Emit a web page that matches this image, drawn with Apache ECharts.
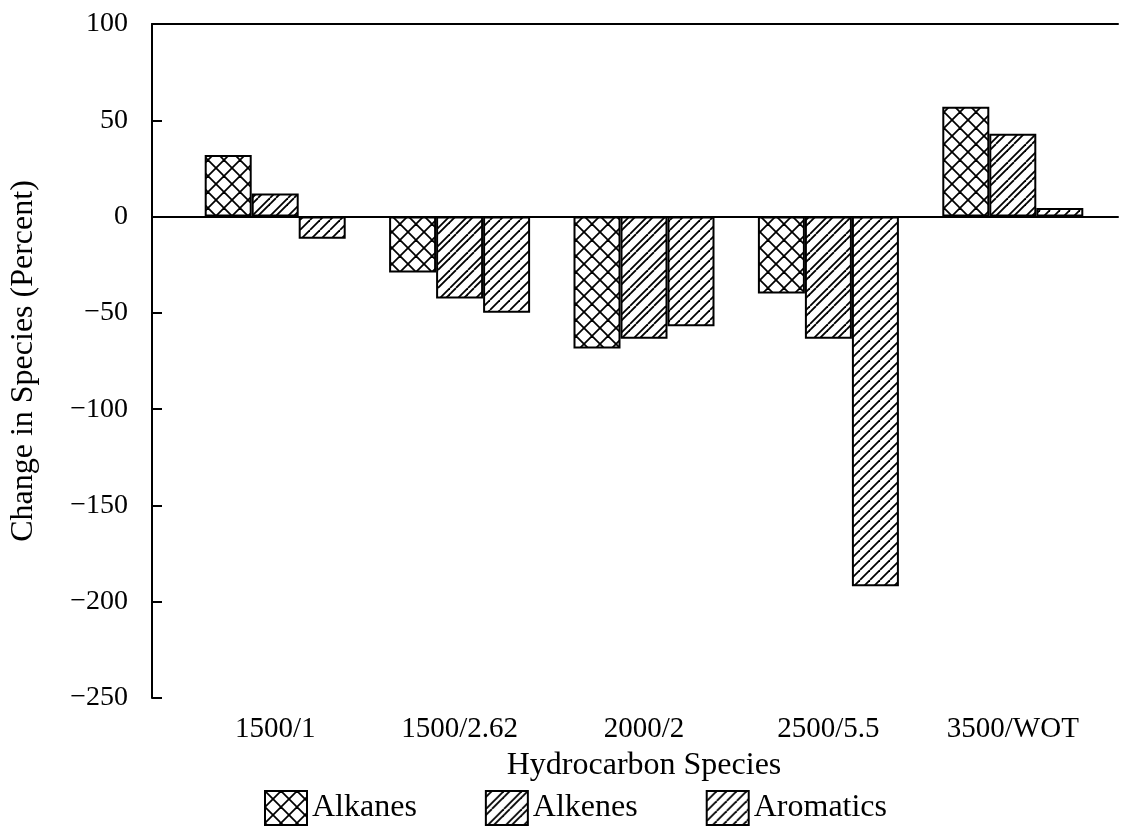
<!DOCTYPE html>
<html>
<head>
<meta charset="utf-8">
<script src="https://cdn.jsdelivr.net/npm/echarts@6/dist/echarts.min.js"></script>
<style>
  html, body { margin: 0; padding: 0; background: #fff; }
  #chart { width: 1132px; height: 836px; }
</style>
</head>
<body>
<div id="chart"></div>
<script>
// data
const categories = ["1500/1", "1500/2.62", "2000/2", "2500/5.5", "3500/WOT"];
const alkanes = [32, -29, -68.5, -40, 57];
const alkenes = [12, -42.5, -63.5, -63.5, 43];
const aromatics = [-11.5, -50, -57, -192, 4.5];
const yTicks = { min: -250, max: 100, step: 50 };

const FONT = "Liberation Serif";

// hatch patterns
function makePattern(size, draw) {
  const c = document.createElement("canvas");
  c.width = size; c.height = size;
  const ctx = c.getContext("2d");
  ctx.fillStyle = "#fff";
  ctx.fillRect(0, 0, size, size);
  ctx.strokeStyle = "#000";
  ctx.lineWidth = 1.8;
  draw(ctx, size);
  return { image: c, repeat: "repeat" };
}
function slash(ctx, s, off) {
  // line going up-right, repeated across tile edges
  for (let k = -1; k <= 1; k++) {
    ctx.beginPath();
    ctx.moveTo(off + k * s, s);
    ctx.lineTo(off + k * s + s, 0);
    ctx.stroke();
  }
}
const crossPat = makePattern(16, (ctx, s) => {
  slash(ctx, s, 0);
  for (let k = -1; k <= 1; k++) {
    ctx.beginPath();
    ctx.moveTo(k * s, 0);
    ctx.lineTo(k * s + s, s);
    ctx.stroke();
  }
});
const alkenePat = makePattern(18, (ctx, s) => { slash(ctx, s, 0); slash(ctx, s, 6); });
const aromPat = makePattern(10, (ctx, s) => { slash(ctx, s, 0); });

function barSeries(name, data, pat) {
  return {
    name: name,
    type: "bar",
    xAxisIndex: 1,
    yAxisIndex: 1,
    data: data,
    barWidth: 47,
    barGap: "0%",
    itemStyle: { color: pat, borderColor: "#000", borderWidth: 2 }
  };
}

const chart = echarts.init(document.getElementById("chart"), null, { renderer: "canvas" });

const frameGrid = { left: 152, right: 14, top: 24, bottom: 138 };
const barGrid = { left: 183, right: 27, top: 24, bottom: 138 };

chart.setOption({
  animation: false,
  backgroundColor: "#fff",
  grid: [frameGrid, barGrid],
  legend: {
    data: ["Alkanes", "Alkenes", "Aromatics"],
    bottom: 5,
    left: 259,
    itemWidth: 42,
    itemHeight: 34,
    itemGap: 68,
    icon: "rect",
    textStyle: { fontFamily: FONT, fontSize: 32, color: "#000" }
  },
  xAxis: [
    {
      gridIndex: 0, type: "value", min: 0, max: 1, position: "bottom",
      axisLine: { show: true, lineStyle: { color: "#000", width: 2 } },
      axisTick: { show: false }, axisLabel: { show: false }, splitLine: { show: false }
    },
    {
      gridIndex: 1, type: "category", data: categories, position: "bottom",
      axisLine: { show: false }, axisTick: { show: false }, splitLine: { show: false },
      axisLabel: { fontFamily: FONT, fontSize: 29, color: "#000", margin: 17 },
      name: "Hydrocarbon Species", nameLocation: "middle", nameGap: 52,
      nameTextStyle: { fontFamily: FONT, fontSize: 32, color: "#000" }
    },
    {
      gridIndex: 0, type: "value", min: 0, max: 1, position: "top",
      axisLine: { show: true, lineStyle: { color: "#000", width: 2 } },
      axisTick: { show: false }, axisLabel: { show: false }, splitLine: { show: false }
    }
  ],
  yAxis: [
    {
      gridIndex: 0, type: "value", min: yTicks.min, max: yTicks.max, interval: yTicks.step,
      axisLine: { show: true, lineStyle: { color: "#000", width: 2 } },
      axisTick: { show: true, inside: true, length: 10, lineStyle: { color: "#000", width: 2 } },
      splitLine: { show: false },
      axisLabel: {
        fontFamily: FONT, fontSize: 28, color: "#000", margin: 24,
        formatter: v => (v < 0 ? "\u2212" + Math.abs(v) : String(v))
      },
      name: "Change in Species (Percent)", nameLocation: "middle", nameGap: 112,
      nameTextStyle: { fontFamily: FONT, fontSize: 32, color: "#000" }
    },
    {
      gridIndex: 1, type: "value", min: yTicks.min, max: yTicks.max, interval: yTicks.step,
      show: false, splitLine: { show: false }
    }
  ],
  series: [
    {
      name: "zero", type: "line", xAxisIndex: 0, yAxisIndex: 0, data: [],
      markLine: {
        silent: true, symbol: "none", label: { show: false },
        lineStyle: { color: "#000", width: 2, type: "solid" },
        data: [{ yAxis: 0 }]
      }
    },
    barSeries("Alkanes", alkanes, crossPat),
    barSeries("Alkenes", alkenes, alkenePat),
    barSeries("Aromatics", aromatics, aromPat)
  ]
});
</script>
</body>
</html>
